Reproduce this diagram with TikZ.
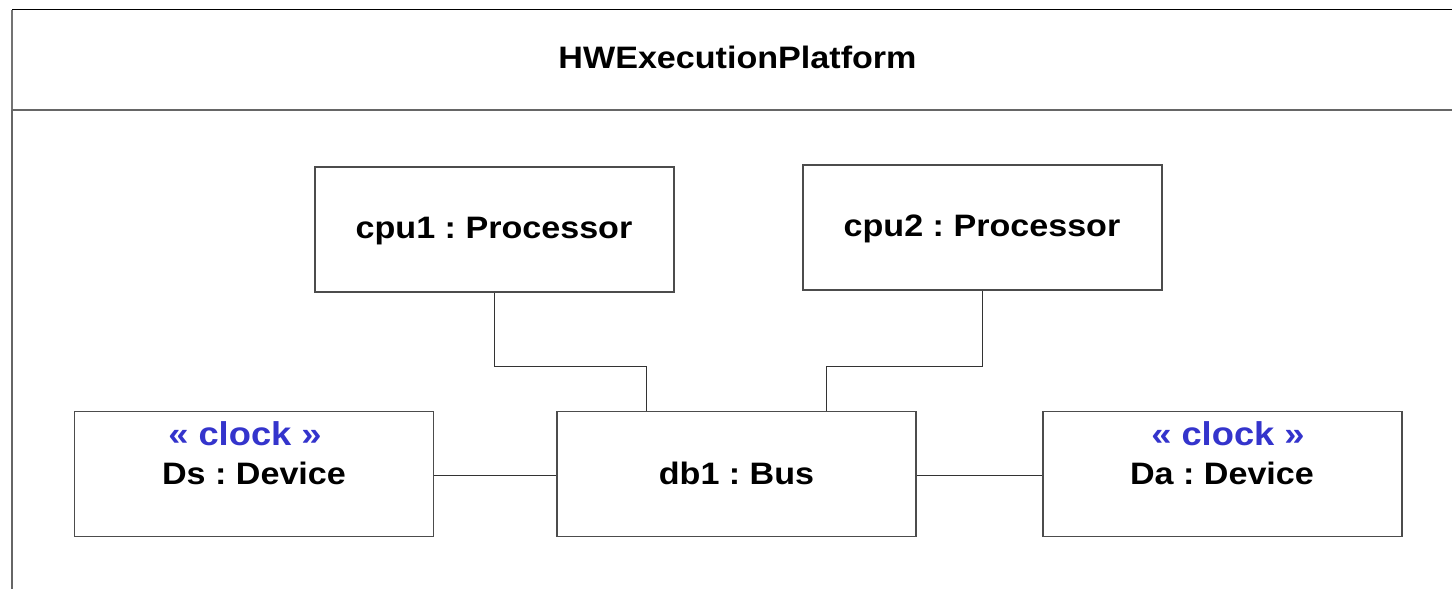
\documentclass[tikz,border=0pt]{standalone}
\usepackage{fontspec}
\setmainfont{Liberation Sans}
\newfontfamily\umlfont{Liberation Sans}[FakeStretch=1.1]
\usepackage{xcolor}
\usetikzlibrary{calc}
\definecolor{stereoblue}{RGB}{52,52,204}
\frenchspacing
\tikzset{
    part/.style={draw=black!70, line width=1.5pt, minimum width=359pt, minimum height=125pt, inner sep=0pt},
    partname/.style={font=\umlfont\fontsize{31}{36}\selectfont\bfseries, inner sep=0pt, anchor=base},
    stereo/.style={font=\umlfont\fontsize{33}{38}\selectfont\bfseries, text=stereoblue, inner sep=0pt, anchor=base},
    link/.style={draw=black!80, line width=1pt}
}

\begin{document}
\begin{tikzpicture}[x=1pt,y=-1pt]
\useasboundingbox (0,0) rectangle (1452,589);
\clip (0,0) rectangle (1452,589);
% frame of the platform, running off the page on the right and bottom
\draw[black!60, line width=2pt] (12,110) -- (12,620);
\draw[black!55, line width=2pt] (12,9.5) -- (12,110);
\draw[black, line width=1.8pt] (12,9.5) -- (1470,9.5);
\draw[black!60, line width=2pt] (12,110) -- (1470,110);
\node[partname] (title) at (737.5,68) {HWExecutionPlatform};
% parts
\node[part] (cpu1) at (494.5,229.5) {};
\node[part] (cpu2) at (982.5,227.5) {};
\node[part] (Ds) at (254,474) {};
\node[part] (db1) at (736.5,474) {};
\node[part] (Da) at (1222.5,474) {};
\node[partname] (cpu1-name) at (494,238) {cpu1 : Processor};
\node[partname] (cpu2-name) at (982,236) {cpu2 : Processor};
\node[partname] (db1-name) at (736.5,484) {db1 : Bus};
\node[stereo] (Ds-clock) at (245,445) {« clock »};
\node[partname] (Ds-name) at (254,484) {Ds : Device};
\node[stereo] (Da-clock) at (1228,445) {« clock »};
\node[partname] (Da-name) at (1222,484) {Da : Device};
% connectors
\coordinate (db1-a) at ($(db1.north west)!0.25!(db1.north east)$);
\coordinate (db1-b) at ($(db1.north west)!0.75!(db1.north east)$);
\draw[link] (cpu1.south) |- (db1-a |- 0,366) -- (db1-a);
\draw[link] (cpu2.south) |- (db1-b |- 0,366) -- (db1-b);
\draw[link] (Ds.east |- 0,475) -- (db1.west |- 0,475);
\draw[link] (db1.east |- 0,475) -- (Da.west |- 0,475);
\end{tikzpicture}
\end{document}
